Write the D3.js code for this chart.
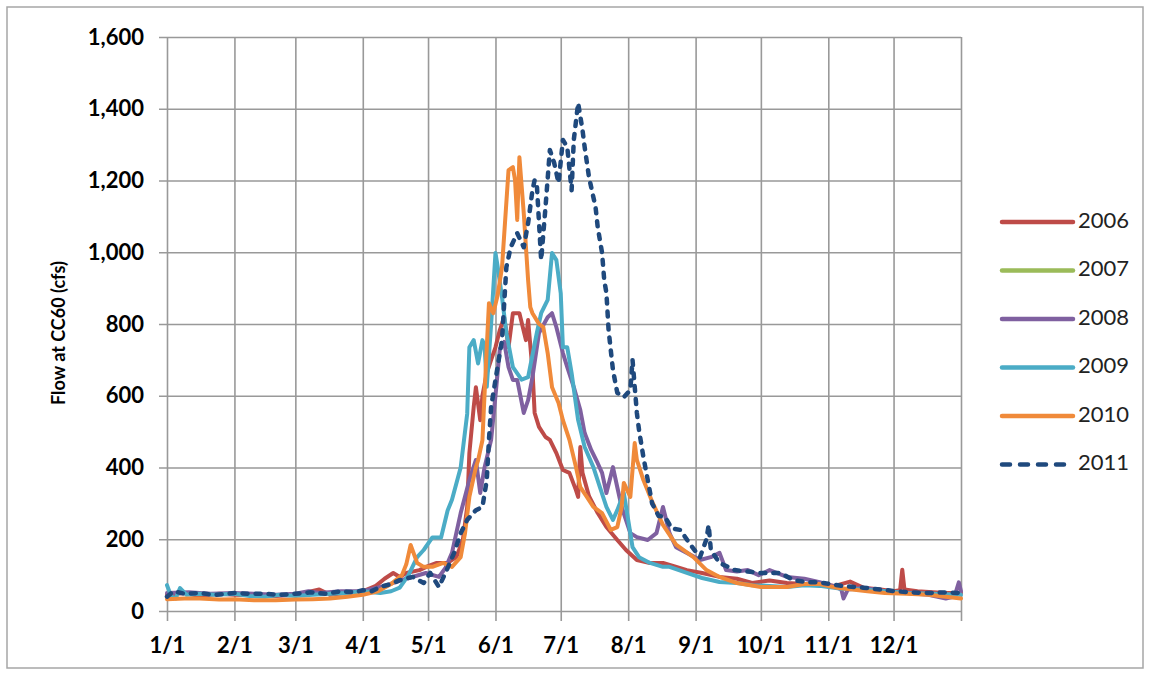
<!DOCTYPE html>
<html>
<head>
<meta charset="utf-8">
<script src="https://cdn.jsdelivr.net/npm/d3@7"></script>
<style>
  body { margin: 0; background: #fff; }
  svg { display: block; font-family: Lato, "Open Sans", sans-serif; }
</style>
</head>
<body>
<svg id="chart" width="1150" height="677"></svg>
<script>
// series: [day of year, flow in cfs]
const years = ["2006", "2007", "2008", "2009", "2010", "2011"];
const yTicks = [0, 200, 400, 600, 800, 1000, 1200, 1400, 1600];

const flow2006 = [[0,45],[8,50],[15,42],[24,48],[31,45],[40,44],[50,42],[59,45],[64,52],[70,60],[75,45],[82,50],[90,55],[96,70],[100,90],[104,106],[107,95],[110,106],[116,114],[120,125],[124,134],[129,134],[133,150],[136,198],[138,290],[139,440],[141,569],[142,624],[144,532],[145,600],[147,663],[149,700],[151,735],[153,783],[155,819],[157,735],[159,830],[162,830],[165,755],[166,811],[168,672],[169,552],[171,513],[174,485],[176,477],[179,440],[182,393],[185,385],[188,337],[189,318],[190,457],[191,385],[194,320],[198,273],[202,234],[207,198],[211,170],[216,142],[222,134],[228,134],[233,125],[239,114],[246,106],[254,95],[262,90],[269,78],[277,85],[285,78],[293,75],[300,75],[307,70],[314,82],[320,65],[328,60],[334,55],[337,58],[338,115],[339,60],[345,55],[352,52],[358,50],[365,50]];
const flow2007 = [];
const flow2008 = [[0,50],[10,52],[20,48],[31,50],[40,48],[50,45],[59,48],[65,55],[70,50],[80,55],[90,55],[100,70],[110,90],[119,106],[125,95],[128,120],[131,162],[135,273],[139,365],[142,421],[144,329],[146,401],[149,477],[151,600],[153,730],[155,750],[157,680],[159,644],[161,644],[164,552],[166,588],[168,652],[171,775],[175,819],[177,830],[179,791],[182,719],[184,680],[187,624],[190,560],[192,496],[195,449],[198,412],[200,385],[202,329],[205,401],[207,345],[209,290],[213,217],[216,206],[221,198],[225,217],[228,290],[231,217],[234,178],[239,162],[245,142],[250,150],[254,162],[257,114],[262,110],[267,114],[272,100],[277,114],[285,95],[293,90],[300,80],[306,70],[310,60],[311,35],[313,60],[320,65],[330,55],[340,50],[350,45],[358,35],[362,40],[364,80],[365,55]];
const flow2009 = [[0,72],[2,40],[4,35],[6,64],[9,45],[15,48],[22,45],[31,48],[38,42],[45,40],[52,45],[59,42],[67,45],[75,48],[83,50],[90,55],[98,50],[103,55],[107,65],[111,100],[115,150],[118,170],[122,205],[126,205],[129,280],[131,310],[135,400],[138,550],[139,735],[141,755],[143,690],[145,755],[146,740],[147,625],[149,800],[151,998],[152,960],[154,875],[156,775],[159,680],[163,645],[166,652],[170,775],[172,830],[175,867],[177,998],[179,978],[181,886],[182,735],[184,735],[186,663],[189,532],[192,457],[196,401],[199,345],[202,290],[205,254],[207,281],[210,329],[212,254],[214,178],[217,150],[222,134],[228,123],[231,123],[239,106],[246,92],[254,81],[262,78],[269,72],[277,70],[285,67],[293,72],[300,70],[310,62],[320,60],[330,55],[340,50],[352,48],[365,45]];
const flow2010 = [[0,33],[8,35],[15,35],[24,32],[31,33],[40,30],[50,30],[59,32],[67,33],[75,35],[83,40],[90,45],[97,55],[103,75],[108,100],[110,130],[112,184],[115,134],[118,123],[122,123],[127,134],[131,123],[135,150],[137,217],[139,318],[142,401],[143,420],[145,476],[146,607],[147,735],[148,858],[150,830],[152,880],[154,958],[157,1229],[159,1237],[160,1201],[161,1090],[162,1265],[164,1109],[166,922],[167,847],[168,830],[171,800],[173,791],[175,719],[177,624],[180,580],[182,532],[185,477],[188,401],[190,345],[193,318],[196,290],[200,273],[204,226],[207,234],[209,290],[210,357],[213,318],[215,468],[216,421],[219,365],[223,305],[228,240],[234,185],[242,150],[248,114],[254,95],[262,78],[273,67],[285,67],[293,75],[300,75],[308,65],[315,60],[322,55],[330,50],[340,48],[350,45],[358,40],[365,35]];
const flow2011 = [[0,40],[3,55],[8,48],[15,50],[22,45],[31,50],[38,48],[45,48],[52,45],[59,48],[66,52],[73,48],[80,55],[86,52],[90,58],[94,55],[98,67],[103,75],[107,86],[113,95],[118,78],[121,106],[125,67],[128,106],[132,162],[135,217],[138,254],[142,281],[145,290],[147,365],[148,477],[149,569],[151,644],[153,719],[154,755],[156,958],[158,1014],[161,1053],[164,1014],[166,1081],[168,1173],[169,1201],[170,1190],[172,978],[174,1126],[176,1285],[178,1249],[180,1193],[182,1313],[184,1293],[186,1173],[187,1313],[189,1416],[191,1341],[192,1293],[194,1209],[197,1126],[198,1070],[200,998],[201,922],[202,886],[203,783],[205,672],[207,608],[210,596],[213,616],[214,700],[216,552],[217,504],[219,429],[221,365],[223,300],[226,265],[229,262],[232,230],[236,226],[240,190],[245,150],[248,200],[249,240],[250,170],[254,134],[261,114],[267,110],[273,106],[282,106],[288,86],[295,80],[300,80],[310,70],[320,65],[328,60],[335,55],[342,52],[350,50],[358,52],[365,50]];

const seriesData = [flow2006, flow2007, flow2008, flow2009, flow2010, flow2011];
const colors = ["#be4b48", "#9bbb59", "#7f60a0", "#4bacc6", "#f08a3a", "#1f497d"];

const svg = d3.select("#chart");
const start = new Date(2001, 0, 1);
const end = new Date(2002, 0, 1);
const plotLeft = 167, plotRight = 961, plotTop = 37, plotBottom = 611;

const x = d3.scaleTime().domain([start, end]).range([plotLeft, plotRight]);
const y = d3.scaleLinear().domain([0, 1600]).range([plotBottom, plotTop]);

// outer frame
svg.append("rect")
  .attr("x", 7).attr("y", 7)
  .attr("width", 1136).attr("height", 661)
  .attr("fill", "none")
  .attr("stroke", "#a6a6a6")
  .attr("stroke-width", 1.5);

const monthTicks = d3.timeMonth.range(start, new Date(2002, 0, 2));

// vertical grid + x axis
const xAxis = d3.axisBottom(x)
  .tickValues(monthTicks)
  .tickSize(-(plotBottom - plotTop))
  .tickSizeOuter(0)
  .tickPadding(26)
  .tickFormat(d => d.getFullYear() === 2002 ? "" : d3.timeFormat("%-m/%-d")(d));

const gx = svg.append("g")
  .attr("transform", `translate(0,${plotBottom})`)
  .call(xAxis);
gx.select(".domain").remove();
gx.selectAll(".tick line").attr("stroke", "#999").attr("stroke-width", 1.6).attr("y2", 10).attr("y1", -(plotBottom - plotTop));
gx.selectAll(".tick text")
  .attr("fill", "#000")
  .attr("font-size", "22px")
  .attr("font-weight", "bold")
  .attr("font-family", "Lato, sans-serif");

// horizontal grid + y axis
const yAxis = d3.axisLeft(y)
  .tickValues(yTicks)
  .tickSize(-(plotRight - plotLeft))
  .tickSizeOuter(0)
  .tickPadding(23)
  .tickFormat(d3.format(","));

const gy = svg.append("g")
  .attr("transform", `translate(${plotLeft},0)`)
  .call(yAxis);
gy.select(".domain").remove();
gy.selectAll(".tick line").attr("stroke", "#999").attr("stroke-width", 1.6).attr("x1", -8);
gy.selectAll(".tick text")
  .attr("fill", "#000")
  .attr("font-size", "22px")
  .attr("font-weight", "bold")
  .attr("font-family", "Lato, sans-serif");

// y title
svg.append("text")
  .attr("transform", "translate(60,333) rotate(-90)")
  .attr("text-anchor", "middle")
  .attr("dominant-baseline", "middle")
  .attr("font-size", "18px")
  .attr("font-weight", "bold")
  .attr("fill", "#000")
  .text("Flow at CC60 (cfs)");

const line = d3.line()
  .x(d => x(d3.timeDay.offset(start, d[0])))
  .y(d => y(d[1]));

const plot = svg.append("g");
seriesData.forEach((s, i) => {
  if (!s.length) return;
  plot.append("path")
    .datum(s)
    .attr("d", line)
    .attr("fill", "none")
    .attr("stroke", colors[i])
    .attr("stroke-width", i === 5 ? 4.5 : 4)
    .attr("stroke-linejoin", "round")
    .attr("stroke-linecap", "round")
    .attr("stroke-dasharray", i === 5 ? "5,8" : null);
});

// legend
const legend = svg.append("g");
years.forEach((yr, i) => {
  const ly = 222 + i * 48.5;
  legend.append("line")
    .attr("x1", 1002).attr("x2", 1073)
    .attr("y1", ly).attr("y2", ly)
    .attr("stroke", colors[i])
    .attr("stroke-width", 4.5)
    .attr("stroke-linecap", "round")
    .attr("stroke-dasharray", i === 5 ? "8,10" : null);
  legend.append("text")
    .attr("x", 1078).attr("y", ly)
    .attr("dominant-baseline", "middle")
    .attr("font-size", "22px")
    .attr("fill", "#222")
    .text(yr);
});
</script>
</body>
</html>
